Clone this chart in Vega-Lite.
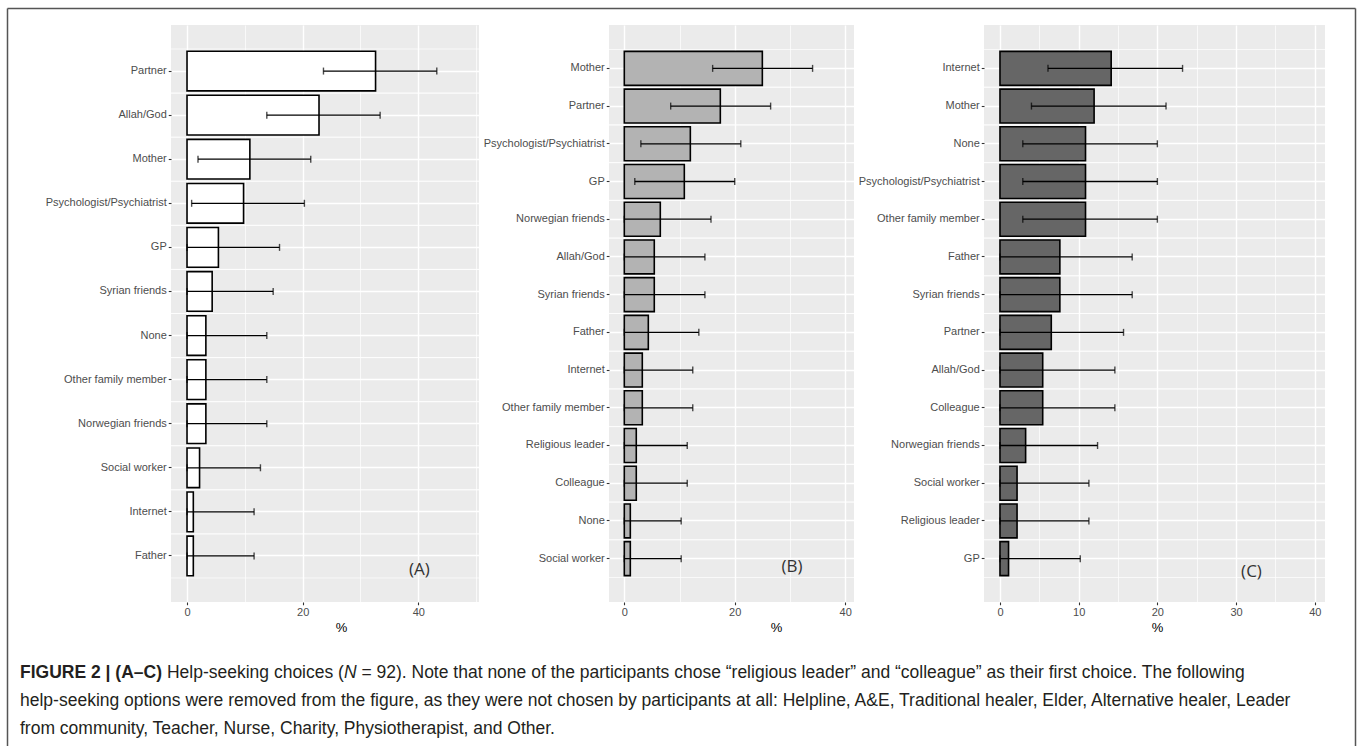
{
  "$schema": "https://vega.github.io/schema/vega-lite/v6.json",
  "background": "white",
  "padding": {"left": 7, "top": 2, "right": 0, "bottom": 0},
  "config": {
    "font": "Liberation Sans",
    "view": {"stroke": null, "fill": null},
    "axis": {
      "labelFont": "Liberation Sans", "labelFontSize": 11, "labelColor": "#4D4D4D",
      "tickColor": "#333333", "tickSize": 2.75, "tickWidth": 1.1, "labelPadding": 2,
      "domain": false, "gridColor": "#FFFFFF", "gridWidth": 1.4,
      "titleFont": "Liberation Sans", "titleFontSize": 13, "titleFontWeight": "normal", "titleColor": "#000000"
    }
  },
  "datasets": {
    "A": [
      {"cat": "Partner", "pct": 32.61, "lo": 23.6, "hi": 43.2},
      {"cat": "Allah/God", "pct": 22.83, "lo": 13.8, "hi": 33.4},
      {"cat": "Mother", "pct": 10.87, "lo": 1.9, "hi": 21.4},
      {"cat": "Psychologist/Psychiatrist", "pct": 9.78, "lo": 0.8, "hi": 20.3},
      {"cat": "GP", "pct": 5.43, "lo": 0, "hi": 16.0},
      {"cat": "Syrian friends", "pct": 4.35, "lo": 0, "hi": 14.9},
      {"cat": "None", "pct": 3.26, "lo": 0, "hi": 13.8},
      {"cat": "Other family member", "pct": 3.26, "lo": 0, "hi": 13.8},
      {"cat": "Norwegian friends", "pct": 3.26, "lo": 0, "hi": 13.8},
      {"cat": "Social worker", "pct": 2.17, "lo": 0, "hi": 12.7},
      {"cat": "Internet", "pct": 1.09, "lo": 0, "hi": 11.6},
      {"cat": "Father", "pct": 1.09, "lo": 0, "hi": 11.6}
    ],
    "B": [
      {"cat": "Mother", "pct": 25.0, "lo": 16.0, "hi": 34.1},
      {"cat": "Partner", "pct": 17.39, "lo": 8.4, "hi": 26.5},
      {"cat": "Psychologist/Psychiatrist", "pct": 11.96, "lo": 3.0, "hi": 21.1},
      {"cat": "GP", "pct": 10.87, "lo": 1.9, "hi": 20.0},
      {"cat": "Norwegian friends", "pct": 6.52, "lo": 0, "hi": 15.7},
      {"cat": "Allah/God", "pct": 5.43, "lo": 0, "hi": 14.6},
      {"cat": "Syrian friends", "pct": 5.43, "lo": 0, "hi": 14.6},
      {"cat": "Father", "pct": 4.35, "lo": 0, "hi": 13.5},
      {"cat": "Internet", "pct": 3.26, "lo": 0, "hi": 12.4},
      {"cat": "Other family member", "pct": 3.26, "lo": 0, "hi": 12.4},
      {"cat": "Religious leader", "pct": 2.17, "lo": 0, "hi": 11.4},
      {"cat": "Colleague", "pct": 2.17, "lo": 0, "hi": 11.4},
      {"cat": "None", "pct": 1.09, "lo": 0, "hi": 10.3},
      {"cat": "Social worker", "pct": 1.09, "lo": 0, "hi": 10.3}
    ],
    "C": [
      {"cat": "Internet", "pct": 14.13, "lo": 6.1, "hi": 23.2},
      {"cat": "Mother", "pct": 11.96, "lo": 4.0, "hi": 21.1},
      {"cat": "None", "pct": 10.87, "lo": 2.9, "hi": 20.0},
      {"cat": "Psychologist/Psychiatrist", "pct": 10.87, "lo": 2.9, "hi": 20.0},
      {"cat": "Other family member", "pct": 10.87, "lo": 2.9, "hi": 20.0},
      {"cat": "Father", "pct": 7.61, "lo": 0, "hi": 16.8},
      {"cat": "Syrian friends", "pct": 7.61, "lo": 0, "hi": 16.8},
      {"cat": "Partner", "pct": 6.52, "lo": 0, "hi": 15.7},
      {"cat": "Allah/God", "pct": 5.43, "lo": 0, "hi": 14.6},
      {"cat": "Colleague", "pct": 5.43, "lo": 0, "hi": 14.6},
      {"cat": "Norwegian friends", "pct": 3.26, "lo": 0, "hi": 12.4},
      {"cat": "Social worker", "pct": 2.17, "lo": 0, "hi": 11.3},
      {"cat": "Religious leader", "pct": 2.17, "lo": 0, "hi": 11.3},
      {"cat": "GP", "pct": 1.09, "lo": 0, "hi": 10.2}
    ],
    "caption": [
      {"line": 1, "seg": "b", "text": "FIGURE 2 | (A–C)"},
      {"line": 1, "seg": "r1", "text": "Help-seeking choices ("},
      {"line": 1, "seg": "n", "text": "N"},
      {"line": 1, "seg": "r2", "text": "= 92). Note that none of the participants chose “religious leader” and “colleague” as their first choice. The following"},
      {"line": 2, "seg": "l", "text": "help-seeking options were removed from the figure, as they were not chosen by participants at all: Helpline, A&E, Traditional healer, Elder, Alternative healer, Leader"},
      {"line": 3, "seg": "l", "text": "from community, Teacher, Nurse, Charity, Physiotherapist, and Other."}
    ]
  },
  "hconcat": [
    {
      "width": 308, "height": 577,
      "view": {"fill": "#EBEBEB", "stroke": null},
      "resolve": {"scale": {"x": "independent", "y": "independent"}},
      "layer": [
        {
          "data": {"name": "A"},
          "layer": [
            {
              "mark": {"type": "rule", "stroke": "#FFFFFF", "strokeWidth": 0.7},
              "encoding": {"y": {"field": "cat", "type": "nominal", "sort": null, "bandPosition": 0, "title": null,
                "scale": {"type": "band", "paddingInner": 0, "paddingOuter": 0.545},
                "axis": {"title": null, "grid": true, "labelLimit": 300}}}
            },
            {
              "mark": {"type": "rule", "stroke": "#FFFFFF", "strokeWidth": 0.7},
              "encoding": {"y": {"field": "cat", "type": "nominal", "sort": null, "bandPosition": 1, "title": null,
                "scale": {"type": "band", "paddingInner": 0, "paddingOuter": 0.545}}}
            },
            {
              "mark": {"type": "bar", "fill": "#FFFFFF", "stroke": "#000000", "strokeWidth": 1.6, "height": {"band": 0.9}},
              "encoding": {
                "y": {"field": "cat", "type": "nominal", "sort": null, "title": null,
                  "scale": {"type": "band", "paddingInner": 0, "paddingOuter": 0.545}},
                "x": {"field": "pct", "type": "quantitative", "title": "%",
                  "scale": {"domain": [-2.77, 50.5], "nice": false, "zero": false},
                  "axis": {"values": [0, 10, 20, 30, 40, 50], "title": "%", "titleX": 170, "titleY": 25, "titleBaseline": "middle",
                    "labelExpr": "datum.value % 20 === 0 ? datum.label : ''",
                    "tickOpacity": {"condition": {"test": "datum.value % 20 === 0", "value": 1}, "value": 0},
                    "gridWidth": {"condition": {"test": "datum.value % 20 === 0", "value": 1.4}, "value": 0.7}}}
              }
            },
            {
              "mark": {"type": "errorbar", "color": "#000000", "thickness": 1.4, "ticks": {"size": 7}, "rule": {"strokeWidth": 1.3}},
              "encoding": {
                "y": {"field": "cat", "type": "nominal", "sort": null, "title": null,
                  "scale": {"type": "band", "paddingInner": 0, "paddingOuter": 0.545}},
                "x": {"field": "lo", "type": "quantitative", "title": "%",
                  "scale": {"domain": [-2.77, 50.5], "nice": false, "zero": false}},
                "x2": {"field": "hi"}
              }
            },
            {
              "mark": {"type": "text", "font": "Open Sans", "fontSize": 17, "color": "#333333", "align": "center", "baseline": "middle"},
              "encoding": {
                "y": {"field": "cat", "type": "nominal", "sort": null, "title": null, "bandPosition": 0.82,
                  "scale": {"type": "band", "paddingInner": 0, "paddingOuter": 0.545}},
                "x": {"datum": 40.2, "type": "quantitative", "scale": {"domain": [-2.77, 50.5], "nice": false, "zero": false}},
                "text": {"condition": {"test": "datum.cat === 'Father'", "value": "(A)"}, "value": ""}
              }
            }
          ]
        },
        {
          "data": {"name": "caption"},
          "layer": [
            {
              "transform": [{"filter": "datum.seg === 'b'"}],
              "mark": {"type": "text", "align": "left", "baseline": "middle", "fontSize": 17.5, "fontWeight": "bold", "color": "#231F20"},
              "encoding": {"x": {"value": -151}, "text": {"field": "text"},
                "y": {"field": "line", "type": "ordinal", "scale": {"type": "point", "range": [648, 704], "padding": 0}, "axis": null}}
            },
            {
              "transform": [{"filter": "datum.seg === 'r1'"}],
              "mark": {"type": "text", "align": "left", "baseline": "middle", "fontSize": 17.5, "color": "#231F20", "dx": 146.9},
              "encoding": {"x": {"value": -151}, "text": {"field": "text"},
                "y": {"field": "line", "type": "ordinal", "scale": {"type": "point", "range": [648, 704], "padding": 0}, "axis": null}}
            },
            {
              "transform": [{"filter": "datum.seg === 'n'"}],
              "mark": {"type": "text", "align": "left", "baseline": "middle", "fontSize": 17.5, "fontStyle": "italic", "color": "#231F20", "dx": 323.9},
              "encoding": {"x": {"value": -151}, "text": {"field": "text"},
                "y": {"field": "line", "type": "ordinal", "scale": {"type": "point", "range": [648, 704], "padding": 0}, "axis": null}}
            },
            {
              "transform": [{"filter": "datum.seg === 'r2'"}],
              "mark": {"type": "text", "align": "left", "baseline": "middle", "fontSize": 17.5, "color": "#231F20", "dx": 341.4},
              "encoding": {"x": {"value": -151}, "text": {"field": "text"},
                "y": {"field": "line", "type": "ordinal", "scale": {"type": "point", "range": [648, 704], "padding": 0}, "axis": null}}
            },
            {
              "transform": [{"filter": "datum.seg === 'l'"}],
              "mark": {"type": "text", "align": "left", "baseline": "middle", "fontSize": 17.5, "color": "#231F20"},
              "encoding": {"x": {"value": -151}, "text": {"field": "text"},
                "y": {"field": "line", "type": "ordinal", "scale": {"type": "point", "range": [648, 704], "padding": 0}, "axis": null}}
            }
          ]
        },
        {
          "data": {"name": "caption"},
          "mark": {"type": "text", "text": ""},
          "encoding": {
            "y": {"field": "line", "type": "ordinal", "scale": {"type": "point", "range": [-17, 721], "padding": 0},
              "axis": {"orient": "left", "offset": 164, "domain": true, "domainColor": "#555555", "domainWidth": 1.5, "labels": false, "ticks": false, "grid": false, "title": null}},
            "x": {"datum": 0, "type": "quantitative", "scale": {"domain": [0, 1], "range": [-164, 1184]},
              "axis": {"orient": "top", "offset": 17, "domain": true, "domainColor": "#555555", "domainWidth": 1.5, "labels": false, "ticks": false, "grid": false, "title": null}}
          }
        }
      ]
    },
    {
      "width": 245, "height": 577,
      "view": {"fill": "#EBEBEB", "stroke": null},
      "data": {"name": "B"},
      "layer": [
        {
          "mark": {"type": "rule", "stroke": "#FFFFFF", "strokeWidth": 0.7},
          "encoding": {"y": {"field": "cat", "type": "nominal", "sort": null, "bandPosition": 0, "title": null,
            "scale": {"type": "band", "paddingInner": 0, "paddingOuter": 0.65},
            "axis": {"title": null, "grid": true, "labelLimit": 300}}}
        },
        {
          "mark": {"type": "rule", "stroke": "#FFFFFF", "strokeWidth": 0.7},
          "encoding": {"y": {"field": "cat", "type": "nominal", "sort": null, "bandPosition": 1, "title": null,
            "scale": {"type": "band", "paddingInner": 0, "paddingOuter": 0.65}}}
        },
        {
          "mark": {"type": "bar", "fill": "#B3B3B3", "stroke": "#000000", "strokeWidth": 1.6, "height": {"band": 0.9}},
          "encoding": {
            "y": {"field": "cat", "type": "nominal", "sort": null, "title": null,
              "scale": {"type": "band", "paddingInner": 0, "paddingOuter": 0.65}},
            "x": {"field": "pct", "type": "quantitative", "title": "%",
              "scale": {"domain": [-2.77, 41.6], "nice": false, "zero": false},
              "axis": {"values": [0, 10, 20, 30, 40], "title": "%", "titleX": 167, "titleY": 25, "titleBaseline": "middle",
                "labelExpr": "datum.value % 20 === 0 ? datum.label : ''",
                "tickOpacity": {"condition": {"test": "datum.value % 20 === 0", "value": 1}, "value": 0},
                "gridWidth": {"condition": {"test": "datum.value % 20 === 0", "value": 1.4}, "value": 0.7}}}
          }
        },
        {
          "mark": {"type": "errorbar", "color": "#000000", "thickness": 1.4, "ticks": {"size": 7}, "rule": {"strokeWidth": 1.3}},
          "encoding": {
            "y": {"field": "cat", "type": "nominal", "sort": null, "title": null,
              "scale": {"type": "band", "paddingInner": 0, "paddingOuter": 0.65}},
            "x": {"field": "lo", "type": "quantitative", "title": "%",
              "scale": {"domain": [-2.77, 41.6], "nice": false, "zero": false}},
            "x2": {"field": "hi"}
          }
        },
        {
          "mark": {"type": "text", "font": "Open Sans", "fontSize": 17, "color": "#333333", "align": "center", "baseline": "middle"},
          "encoding": {
            "y": {"field": "cat", "type": "nominal", "sort": null, "title": null, "bandPosition": 0.72,
              "scale": {"type": "band", "paddingInner": 0, "paddingOuter": 0.65}},
            "x": {"datum": 30.35, "type": "quantitative", "scale": {"domain": [-2.77, 41.6], "nice": false, "zero": false}},
            "text": {"condition": {"test": "datum.cat === 'Social worker'", "value": "(B)"}, "value": ""}
          }
        }
      ]
    },
    {
      "width": 341, "height": 577,
      "view": {"fill": "#EBEBEB", "stroke": null},
      "resolve": {"scale": {"y": "independent"}},
      "layer": [
        {
          "data": {"name": "C"},
          "layer": [
            {
              "mark": {"type": "rule", "stroke": "#FFFFFF", "strokeWidth": 0.7},
              "encoding": {"y": {"field": "cat", "type": "nominal", "sort": null, "bandPosition": 0, "title": null,
                "scale": {"type": "band", "paddingInner": 0, "paddingOuter": 0.65},
                "axis": {"title": null, "grid": true, "labelLimit": 300}}}
            },
            {
              "mark": {"type": "rule", "stroke": "#FFFFFF", "strokeWidth": 0.7},
              "encoding": {"y": {"field": "cat", "type": "nominal", "sort": null, "bandPosition": 1, "title": null,
                "scale": {"type": "band", "paddingInner": 0, "paddingOuter": 0.65}}}
            },
            {
              "mark": {"type": "bar", "fill": "#666666", "stroke": "#000000", "strokeWidth": 1.6, "height": {"band": 0.9}},
              "encoding": {
                "y": {"field": "cat", "type": "nominal", "sort": null, "title": null,
                  "scale": {"type": "band", "paddingInner": 0, "paddingOuter": 0.65}},
                "x": {"field": "pct", "type": "quantitative", "title": "%",
                  "scale": {"domain": [-2.03, 41.3], "nice": false, "zero": false},
                  "axis": {"values": [0, 5, 10, 15, 20, 25, 30, 35, 40], "title": "%", "titleX": 173, "titleY": 25, "titleBaseline": "middle",
                    "labelExpr": "datum.value % 10 === 0 ? datum.label : ''",
                    "tickOpacity": {"condition": {"test": "datum.value % 10 === 0", "value": 1}, "value": 0},
                    "gridWidth": {"condition": {"test": "datum.value % 10 === 0", "value": 1.4}, "value": 0.7}}}
              }
            },
            {
              "mark": {"type": "errorbar", "color": "#000000", "thickness": 1.4, "ticks": {"size": 7}, "rule": {"strokeWidth": 1.3}},
              "encoding": {
                "y": {"field": "cat", "type": "nominal", "sort": null, "title": null,
                  "scale": {"type": "band", "paddingInner": 0, "paddingOuter": 0.65}},
                "x": {"field": "lo", "type": "quantitative", "title": "%",
                  "scale": {"domain": [-2.03, 41.3], "nice": false, "zero": false}},
                "x2": {"field": "hi"}
              }
            },
            {
              "mark": {"type": "text", "font": "Open Sans", "fontSize": 17, "color": "#333333", "align": "center", "baseline": "middle"},
              "encoding": {
                "y": {"field": "cat", "type": "nominal", "sort": null, "title": null, "bandPosition": 0.855,
                  "scale": {"type": "band", "paddingInner": 0, "paddingOuter": 0.65}},
                "x": {"datum": 31.96, "type": "quantitative", "scale": {"domain": [-2.03, 41.3], "nice": false, "zero": false}},
                "text": {"condition": {"test": "datum.cat === 'GP'", "value": "(C)"}, "value": ""}
              }
            }
          ]
        },
        {
          "data": {"name": "caption"},
          "mark": {"type": "text", "text": ""},
          "encoding": {
            "y": {"field": "line", "type": "ordinal", "scale": {"type": "point", "range": [-17, 721], "padding": 0},
              "axis": {"orient": "right", "offset": 30, "domain": true, "domainColor": "#555555", "domainWidth": 1.5, "labels": false, "ticks": false, "grid": false, "title": null}}
          }
        }
      ]
    }
  ],
  "bounds": "flush",
  "spacing": 130
}
